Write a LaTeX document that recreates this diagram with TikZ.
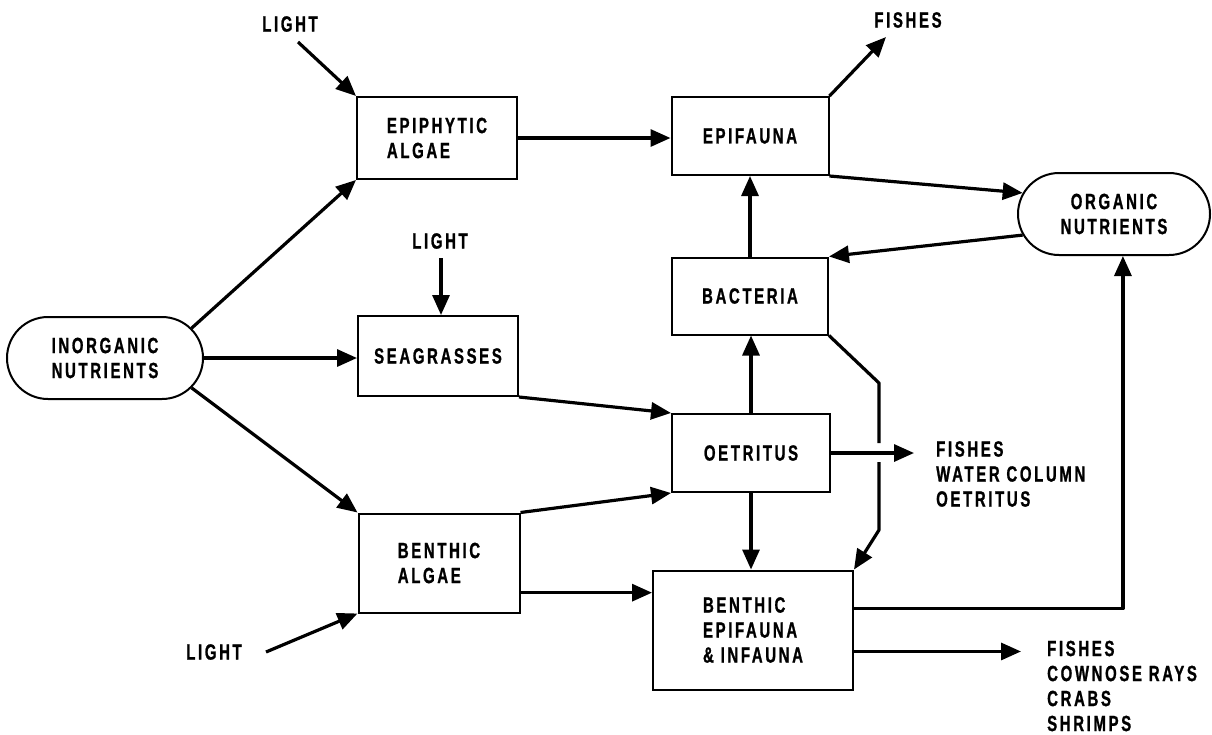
\documentclass[tikz,border=0pt]{standalone}
\usepackage{fontspec}
\setmainfont{Liberation Sans}[FakeStretch=0.68,LetterSpace=12,FakeBold=1]
\usetikzlibrary{arrows.meta,shapes.misc}

\begin{document}
\begin{tikzpicture}[x=1pt,y=-1pt,
  font=\bfseries\fontsize{22}{25}\selectfont,
  box/.style={draw,line width=2pt,align=left,inner sep=0pt},
  pill/.style={draw,line width=2pt,rounded rectangle,align=center,inner sep=0pt},
  lbl/.style={inner sep=0pt,align=left},
  flow/.style={line width=3.2pt,line join=round,-{Triangle[length=20pt,width=17pt]}}]
\useasboundingbox (0,0) rectangle (1212,734);
% compartments
\node [pill,minimum width=196pt,minimum height=82pt] (inorg) at (105,358) {INORGANIC\\NUTRIENTS};
\node [box,minimum width=160pt,minimum height=82pt] (epiph) at (437,138) {EPIPHYTIC\\ALGAE};
\node [box,minimum width=160pt,minimum height=80pt] (sea) at (438,356) {SEAGRASSES};
\node [box,minimum width=161pt,minimum height=99pt] (balg) at (439,563) {BENTHIC\\ALGAE};
\node [box,minimum width=157pt,minimum height=78pt] (epif) at (750,136) {EPIFAUNA};
\node [box,minimum width=156pt,minimum height=77pt] (bact) at (750,296) {BACTERIA};
\node [box,minimum width=158pt,minimum height=78pt] (detr) at (751,453) {OETRITUS};
\node [box,minimum width=200pt,minimum height=119pt] (bepi) at (753,630) {BENTHIC\\EPIFAUNA\\\& INFAUNA};
\node [pill,minimum width=192pt,minimum height=82pt] (orgn) at (1114,214) {ORGANIC\\NUTRIENTS};
% outside labels
\node [lbl] (lighta) at (290,24) {LIGHT};
\node [lbl] (lightb) at (440,241) {LIGHT};
\node [lbl] (lightc) at (214,652) {LIGHT};
\node [lbl] (fisha) at (908,20) {FISHES};
\node [lbl,anchor=west] (fishb) at (936,474) {FISHES\\WATER COLUMN\\OETRITUS};
\node [lbl,anchor=west] (fishc) at (1047,686) {FISHES\\COWNOSE RAYS\\CRABS\\SHRIMPS};
\coordinate (la) at (298,42);
\coordinate (lb) at (441,258);
\coordinate (lc) at (266,652);
\coordinate (fa) at (886,37);
\coordinate (ba) at (879,383);
\coordinate (bb) at (879,443);
\coordinate (bc) at (879,462);
\coordinate (bd) at (879,530);
% flows
\draw [flow] (la) -- (epiph.north west);
\draw [flow] (lb) -- (lb |- sea.north);
\draw [flow] (lc) -- (balg.south west);
\draw [flow] (inorg.19) -- (epiph.south west);
\draw [flow] (inorg.east) -- (inorg.east -| sea.west);
\draw [flow] (inorg.-19) -- (balg.north west);
\draw [flow] (epiph.east) -- (epiph.east -| epif.west);
\draw [flow] (epif.north east) -- (fa);
\draw [flow] (epif.south east) -- (orgn.167);
\draw [flow] (orgn.193) -- (bact.north east);
\draw [flow] (bact.north) -- (epif.south);
\draw [flow] (detr.north) -- (detr.north |- bact.south);
\draw [line width=3.2pt,line join=round] (bact.south east) -- (ba) -- (bb);
\draw [flow] (bc) -- (bd) -- (bepi.north east);
\draw [flow,shorten >=22pt] (detr.east) -- (detr.east -| fishb.west);
\draw [flow] (detr.south) -- (detr.south |- bepi.north);
\draw [flow] (sea.south east) -- (detr.north west);
\draw [flow] (balg.north east) -- (detr.south west);
\draw [flow] (balg.-20) -- (balg.-20 -| bepi.west);
\draw [flow] (bepi.12) -| (orgn.-78);
\draw [flow,shorten >=26pt] (bepi.-12) -- (bepi.-12 -| fishc.west);
\end{tikzpicture}
\end{document}
